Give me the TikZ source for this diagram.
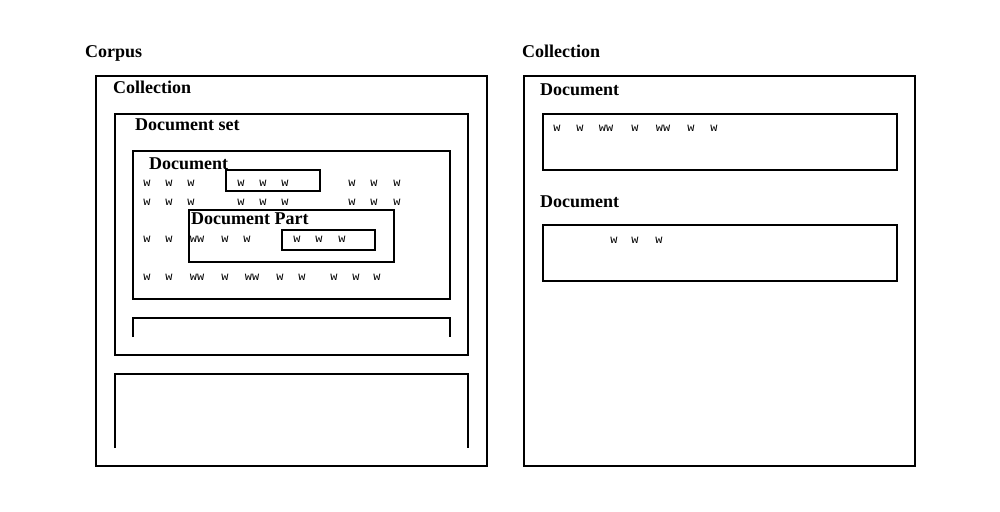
\documentclass[tikz,border=0pt]{standalone}
\usepackage{fontspec}
\setmainfont{Liberation Serif}
\setmonofont{Liberation Mono}

\tikzset{
  box/.style={line width=2pt},
  lbl/.style={anchor=base west, inner sep=0pt, font=\fontsize{18}{20}\selectfont\bfseries},
  wrd/.style={inner sep=0pt, font=\fontsize{12}{14}\selectfont\ttfamily},
}

\begin{document}
\begin{tikzpicture}[x=1pt,y=-1pt]

\useasboundingbox (0,0) rectangle (1000,511);

% left: corpus
\node[lbl] (corpus) at (85,58) {Corpus};
\draw[box] (96,76) rectangle (487,466);

\node[lbl] (coll) at (113,93) {Collection};
\draw[box] (115,114) rectangle (468,355);

\node[lbl] (docset) at (135,130) {Document set};
\draw[box] (133,151) rectangle (450,299);

\node[lbl] (doc) at (149,169) {Document};
\draw[box] (226,170) rectangle (320,191);

\draw[box] (189,210) rectangle (394,262);
\node[lbl] (part) at (191,224) {Document Part};
\draw[box] (282,230) rectangle (375,250);

\foreach \x in {147,169,191,241,263,285,352,374,397} {
    \node[wrd] (wa\x) at (\x,183) {w};
    \node[wrd] (wb\x) at (\x,202) {w};
}

\foreach \x/\t in {147/w,169/w,197/ww,225/w,247/w,297/w,319/w,342/w}
    \node[wrd] (wc\x) at (\x,239) {\t};

\foreach \x/\t in {147/w,169/w,197/ww,225/w,252/ww,280/w,302/w,334/w,356/w,377/w}
    \node[wrd] (wd\x) at (\x,277) {\t};

% open boxes
\draw[box] (133,337) -- (133,318) -- (450,318) -- (450,337);
\draw[box] (115,448) -- (115,374) -- (468,374) -- (468,448);

% right: collection
\node[lbl] (rcoll) at (522,58) {Collection};
\draw[box] (524,76) rectangle (915,466);

\node[lbl] (rdoc1) at (540,95) {Document};
\draw[box] (543,114) rectangle (897,170);

\foreach \x/\t in {557/w,580/w,606/ww,635/w,663/ww,691/w,714/w}
    \node[wrd] (we\x) at (\x,128) {\t};

\node[lbl] (rdoc2) at (540,207) {Document};
\draw[box] (543,225) rectangle (897,281);

\foreach \x in {614,635,659}
    \node[wrd] (wf\x) at (\x,240) {w};

\end{tikzpicture}
\end{document}
